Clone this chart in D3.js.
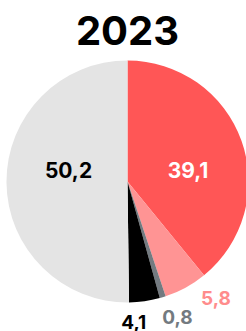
<!DOCTYPE html>
<html>
<head>
<meta charset="utf-8">
<script src="https://cdn.jsdelivr.net/npm/d3@7"></script>
<style>
  body { margin: 0; background: #fff; }
  svg text { font-family: Inter, "DejaVu Sans", sans-serif; font-weight: 700; }
</style>
</head>
<body>
<div id="chart"></div>
<script>
// Data
const title = '2023';
const categories = ['a', 'b', 'c', 'd', 'e'];
const values = [39.1, 5.8, 0.8, 4.1, 50.2];
const labels = ['39,1', '5,8', '0,8', '4,1', '50,2'];
const sliceColors = ['#ff5656', '#ff9494', '#737a80', '#000000', '#e4e4e4'];
const labelColors = ['#ffffff', '#ff8c8c', '#737a80', '#000000', '#000000'];
const outside = [false, true, true, true, false];

const width = 246;
const height = 331;
const cx = 127.5;
const cy = 181.5;
const radius = 121;

const svg = d3.select('#chart').append('svg')
  .attr('width', width)
  .attr('height', height);

svg.append('text')
  .attr('x', cx)
  .attr('y', 45)
  .attr('text-anchor', 'middle')
  .attr('font-size', 40)
  .attr('fill', '#000')
  .text(title);

const pie = d3.pie().sort(null).value(d => d.value);
const data = categories.map((c, i) => ({ key: c, value: values[i], i }));
const arcs = pie(data);

const arc = d3.arc().innerRadius(0).outerRadius(radius);
const innerLabelArc = d3.arc().innerRadius(60).outerRadius(60);
const outerLabelArc = d3.arc().innerRadius(144).outerRadius(144);

const g = svg.append('g')
  .attr('transform', `translate(${cx},${cy})`);

g.selectAll('path')
  .data(arcs)
  .join('path')
  .attr('d', arc)
  .attr('fill', d => sliceColors[d.data.i]);

// small hand nudges so labels sit like the original
const nudge = [[4, 9], [19, -9], [8, -2], [-14, -2], [1, -11]];

const labelPos = d => {
  const c = (outside[d.data.i] ? outerLabelArc : innerLabelArc).centroid(d);
  return [c[0] + nudge[d.data.i][0], c[1] + nudge[d.data.i][1]];
};

g.selectAll('text')
  .data(arcs)
  .join('text')
  .attr('x', d => labelPos(d)[0])
  .attr('y', d => labelPos(d)[1])
  .attr('text-anchor', 'middle')
  .attr('dominant-baseline', 'central')
  .attr('font-size', d => outside[d.data.i] ? 19 : 21)
  .attr('fill', d => labelColors[d.data.i])
  .text(d => labels[d.data.i]);
</script>
</body>
</html>
